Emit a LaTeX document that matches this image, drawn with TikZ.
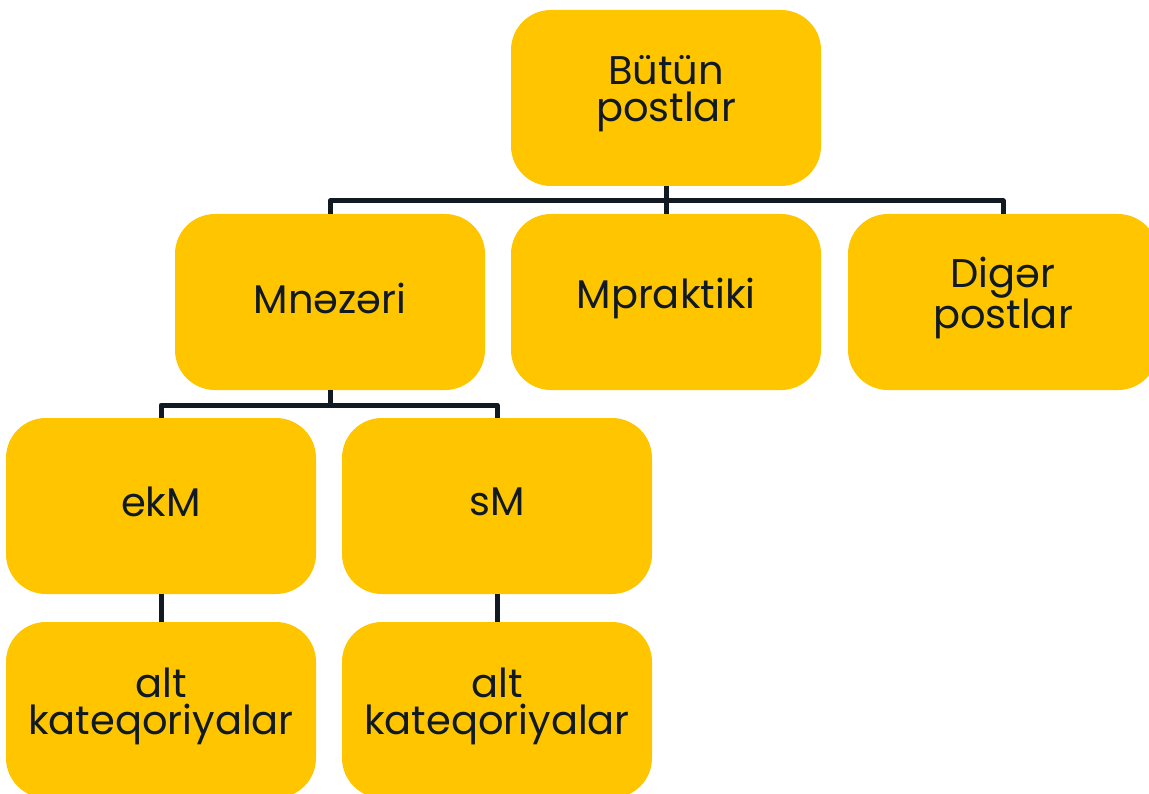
\documentclass[tikz,border=0pt]{standalone}
\usepackage{fontspec}
\setmainfont{Poppins}
\definecolor{boxy}{HTML}{FFC600}
\definecolor{ink}{HTML}{111A22}
\tikzset{
  card/.style={fill=boxy, draw=none, rounded corners=40pt, minimum width=310pt, minimum height=176pt, inner sep=0pt},
  lbl/.style={text=ink, align=center, font=\fontsize{40}{37}\selectfont, inner sep=0pt, yshift=4pt},
  conn/.style={draw=ink, line width=5pt, line join=round}
}
\begin{document}
\begin{tikzpicture}[x=1pt,y=-1pt]
\useasboundingbox (0,0) rectangle (1149,794);
\clip (0,0) rectangle (1149,794);
\fill[white] (0,0) rectangle (1149,794);
\coordinate (bus1) at (0,201);
\coordinate (bus2) at (0,405);
\node[card] (top) at (666,98) {};
\node[card] (mn) at (330,302) {};
\node[card] (mp) at (666,302) {};
\node[card] (dg) at (1003,302) {};
\node[card] (ek) at (161,506) {};
\node[card] (sm) at (497,506) {};
\node[card] (a1) at (161,710) {};
\node[card] (a2) at (497,710) {};
\node[lbl] (topt) at (top.center) {Bütün\\postlar};
\node[lbl] (mnt) at (mn.center) {Mnəzəri};
\node[lbl] (mpt) at (mp.center) {Mpraktiki};
\node[lbl] (dgt) at (dg.center) {Digər\\postlar};
\node[lbl] (ekt) at (ek.center) {ekM};
\node[lbl] (smt) at (sm.center) {sM};
\node[lbl] (a1t) at (a1.center) {alt\\kateqoriyalar};
\node[lbl] (a2t) at (a2.center) {alt\\kateqoriyalar};
\draw[conn] (top.south) -- (mp.north);
\draw[conn] (mn.north) -- (mn.north |- bus1) -- (dg.north |- bus1) -- (dg.north);
\draw[conn] (mn.south) -- (mn.south |- bus2);
\draw[conn] (ek.north) -- (ek.north |- bus2) -- (sm.north |- bus2) -- (sm.north);
\draw[conn] (ek.south) -- (a1.north);
\draw[conn] (sm.south) -- (a2.north);
\end{tikzpicture}
\end{document}
